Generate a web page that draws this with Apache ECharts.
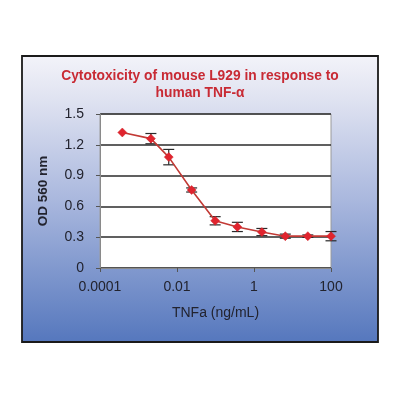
<!DOCTYPE html>
<html>
<head>
<meta charset="utf-8">
<script src="https://cdn.jsdelivr.net/npm/echarts@6/dist/echarts.min.js"></script>
<style>
html,body{margin:0;padding:0;background:#fff;}
#chart{width:400px;height:400px;}
</style>
</head>
<body>
<div id="chart"></div>
<script>
var concentrations = [0.00038, 0.0021, 0.0061, 0.024, 0.098, 0.37, 1.6, 6.5, 25, 100];
var odValues = [1.32, 1.26, 1.08, 0.76, 0.46, 0.40, 0.35, 0.31, 0.31, 0.31];
var odErrors = [0.0, 0.05, 0.075, 0.02, 0.04, 0.045, 0.035, 0.02, 0.012, 0.045];
var yTicks = [0, 0.3, 0.6, 0.9, 1.2, 1.5];
var xTickLabels = {"0.0001": "0.0001", "0.01": "0.01", "1": "1", "100": "100"};

var chart = echarts.init(document.getElementById('chart'), null, {renderer: 'canvas'});

var lineData = concentrations.map(function (c, i) { return [c, odValues[i]]; });
var errData = concentrations.map(function (c, i) { return [c, odValues[i] - odErrors[i], odValues[i] + odErrors[i]]; });

function fmtX(v) {
  var keys = Object.keys(xTickLabels);
  for (var i = 0; i < keys.length; i++) {
    if (Math.abs(Math.log10(v) - Math.log10(parseFloat(keys[i]))) < 1e-6) return xTickLabels[keys[i]];
  }
  return '';
}

var labelColor = '#22232e';

chart.setOption({
  backgroundColor: '#ffffff',
  animation: false,
  graphic: [{
    type: 'rect',
    z: -10,
    shape: {x: 22, y: 56, width: 356, height: 286},
    style: {
      fill: new echarts.graphic.LinearGradient(0, 0, 0, 1, [
        {offset: 0, color: '#f3f3f9'},
        {offset: 0.15, color: '#e0e3f1'},
        {offset: 0.5, color: '#aab8de'},
        {offset: 1, color: '#5577bd'}
      ]),
      stroke: '#1a1a1a',
      lineWidth: 1.8
    }
  }],
  title: {
    text: 'Cytotoxicity of mouse L929 in response to\nhuman TNF-\u03b1',
    left: 'center',
    top: 63,
    textStyle: {
      color: '#c82a34',
      fontFamily: 'Liberation Sans',
      fontWeight: 'bold',
      fontSize: 13.8,
      lineHeight: 17
    }
  },
  grid: {
    left: 100, right: 69, top: 114, bottom: 132,
    show: true,
    backgroundColor: '#ffffff',
    borderColor: '#9a9a9a',
    borderWidth: 1
  },
  xAxis: {
    type: 'log',
    logBase: 100,
    min: 0.0001,
    max: 100,
    name: 'TNFa (ng/mL)',
    nameLocation: 'middle',
    nameGap: 38,
    nameTextStyle: {color: labelColor, fontFamily: 'Liberation Sans', fontSize: 14},
    axisLine: {show: true, lineStyle: {color: '#8a8a8a', width: 1}},
    axisTick: {show: true, length: 4, inside: false, lineStyle: {color: '#555'}},
    splitLine: {show: false},
    minorTick: {show: false},
    axisLabel: {
      color: labelColor, fontFamily: 'Liberation Sans', fontSize: 14, margin: 12,
      formatter: function (v) { return fmtX(v); }
    }
  },
  yAxis: {
    type: 'value',
    min: yTicks[0],
    max: yTicks[yTicks.length - 1],
    interval: 0.3,
    name: 'OD 560 nm',
    nameLocation: 'middle',
    nameGap: 50,
    nameTextStyle: {color: labelColor, fontFamily: 'Liberation Sans', fontSize: 13.5, fontWeight: 'bold'},
    axisLine: {show: true, lineStyle: {color: '#8a8a8a', width: 1}},
    axisTick: {show: true, length: 4, lineStyle: {color: '#555'}},
    splitLine: {show: true, lineStyle: {color: '#2b2b2b', width: 1.5}},
    axisLabel: {
      color: labelColor, fontFamily: 'Liberation Sans', fontSize: 14, margin: 16,
      formatter: function (v) { return v === 0 ? '0' : v.toFixed(1); }
    }
  },
  series: [
    {
      type: 'custom',
      data: errData,
      z: 3,
      renderItem: function (params, api) {
        var x = api.value(0);
        var lo = api.coord([x, api.value(1)]);
        var hi = api.coord([x, api.value(2)]);
        if (Math.abs(hi[1] - lo[1]) < 0.5) return null;
        var w = 5.5;
        var st = {stroke: '#2a2a2a', lineWidth: 1.2};
        return {
          type: 'group',
          children: [
            {type: 'line', shape: {x1: hi[0], y1: hi[1], x2: lo[0], y2: lo[1]}, style: st},
            {type: 'line', shape: {x1: hi[0] - w, y1: hi[1], x2: hi[0] + w, y2: hi[1]}, style: st},
            {type: 'line', shape: {x1: lo[0] - w, y1: lo[1], x2: lo[0] + w, y2: lo[1]}, style: st}
          ]
        };
      }
    },
    {
      type: 'line',
      data: lineData,
      z: 4,
      symbol: 'diamond',
      symbolSize: 9,
      showSymbol: true,
      lineStyle: {color: '#c23a35', width: 1.6},
      itemStyle: {color: '#e0242e', borderColor: '#d02028', borderWidth: 0.5}
    }
  ]
});
</script>
</body>
</html>
